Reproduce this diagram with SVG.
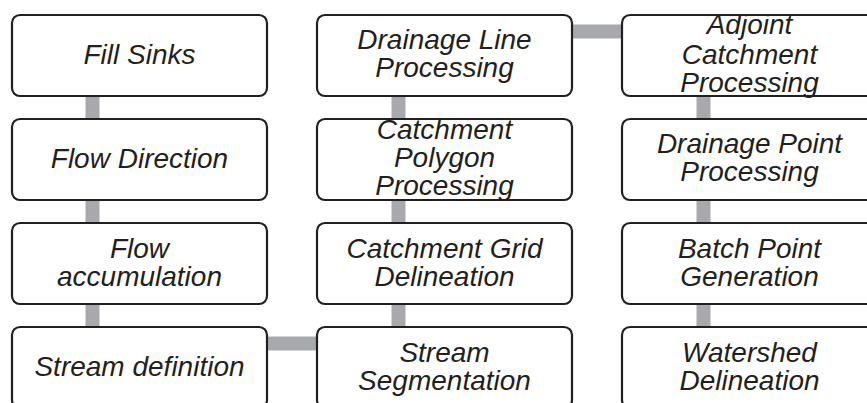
<svg xmlns="http://www.w3.org/2000/svg" width="867" height="403" viewBox="0 0 867 403">
  <style>
    .link { stroke: #a7a9ac; stroke-width: 14; fill: none; }
    .box { fill: #ffffff; stroke: #231f20; stroke-width: 2.2; }
    .lbl { font-family: "Liberation Sans", Arial, sans-serif; font-style: italic; font-size: 28px; fill: #231f20; text-anchor: middle; }
  </style>
  <rect width="867" height="403" fill="#ffffff"/>

  <!-- connectors -->
  <g id="connectors">
    <line class="link" x1="92.5" y1="96" x2="92.5" y2="119"/>
    <line class="link" x1="92.5" y1="200" x2="92.5" y2="223"/>
    <line class="link" x1="92.5" y1="304" x2="92.5" y2="327"/>
    <line class="link" x1="267" y1="343.5" x2="317" y2="343.5"/>
    <line class="link" x1="398.5" y1="304" x2="398.5" y2="327"/>
    <line class="link" x1="398.5" y1="200" x2="398.5" y2="223"/>
    <line class="link" x1="398.5" y1="96" x2="398.5" y2="119"/>
    <line class="link" x1="572" y1="31.5" x2="622" y2="31.5"/>
    <line class="link" x1="703.5" y1="96" x2="703.5" y2="119"/>
    <line class="link" x1="703.5" y1="200" x2="703.5" y2="223"/>
    <line class="link" x1="703.5" y1="304" x2="703.5" y2="327"/>
  </g>

  <!-- column 1 -->
  <g id="fill-sinks">
    <rect class="box" x="12" y="15" width="255" height="81" rx="8"/>
    <text class="lbl" x="139.5" y="64">Fill Sinks</text>
  </g>
  <g id="flow-direction">
    <rect class="box" x="12" y="119" width="255" height="81" rx="8"/>
    <text class="lbl" x="139.5" y="168">Flow Direction</text>
  </g>
  <g id="flow-accumulation">
    <rect class="box" x="12" y="223" width="255" height="81" rx="8"/>
    <text class="lbl" x="139.5" y="258">Flow</text>
    <text class="lbl" x="139.5" y="286">accumulation</text>
  </g>
  <g id="stream-definition">
    <rect class="box" x="12" y="327" width="255" height="81" rx="8"/>
    <text class="lbl" x="139.5" y="376">Stream definition</text>
  </g>

  <!-- column 2 -->
  <g id="drainage-line-processing">
    <rect class="box" x="317" y="15" width="255" height="81" rx="8"/>
    <text class="lbl" x="444.5" y="49">Drainage Line</text>
    <text class="lbl" x="444.5" y="77">Processing</text>
  </g>
  <g id="catchment-polygon-processing">
    <rect class="box" x="317" y="119" width="255" height="81" rx="8"/>
    <text class="lbl" x="444.5" y="139">Catchment</text>
    <text class="lbl" x="444.5" y="167">Polygon</text>
    <text class="lbl" x="444.5" y="194.5">Processing</text>
  </g>
  <g id="catchment-grid-delineation">
    <rect class="box" x="317" y="223" width="255" height="81" rx="8"/>
    <text class="lbl" x="444.5" y="258">Catchment Grid</text>
    <text class="lbl" x="444.5" y="286">Delineation</text>
  </g>
  <g id="stream-segmentation">
    <rect class="box" x="317" y="327" width="255" height="81" rx="8"/>
    <text class="lbl" x="444.5" y="362">Stream</text>
    <text class="lbl" x="444.5" y="390">Segmentation</text>
  </g>

  <!-- column 3 -->
  <g id="adjoint-catchment-processing">
    <rect class="box" x="622" y="15" width="255" height="81" rx="8"/>
    <text class="lbl" x="749.5" y="34">Adjoint</text>
    <text class="lbl" x="749.5" y="63.5">Catchment</text>
    <text class="lbl" x="749.5" y="92">Processing</text>
  </g>
  <g id="drainage-point-processing">
    <rect class="box" x="622" y="119" width="255" height="81" rx="8"/>
    <text class="lbl" x="749.5" y="153">Drainage Point</text>
    <text class="lbl" x="749.5" y="181">Processing</text>
  </g>
  <g id="batch-point-generation">
    <rect class="box" x="622" y="223" width="255" height="81" rx="8"/>
    <text class="lbl" x="749.5" y="258">Batch Point</text>
    <text class="lbl" x="749.5" y="286">Generation</text>
  </g>
  <g id="watershed-delineation">
    <rect class="box" x="622" y="327" width="255" height="81" rx="8"/>
    <text class="lbl" x="749.5" y="362">Watershed</text>
    <text class="lbl" x="749.5" y="390">Delineation</text>
  </g>
</svg>
